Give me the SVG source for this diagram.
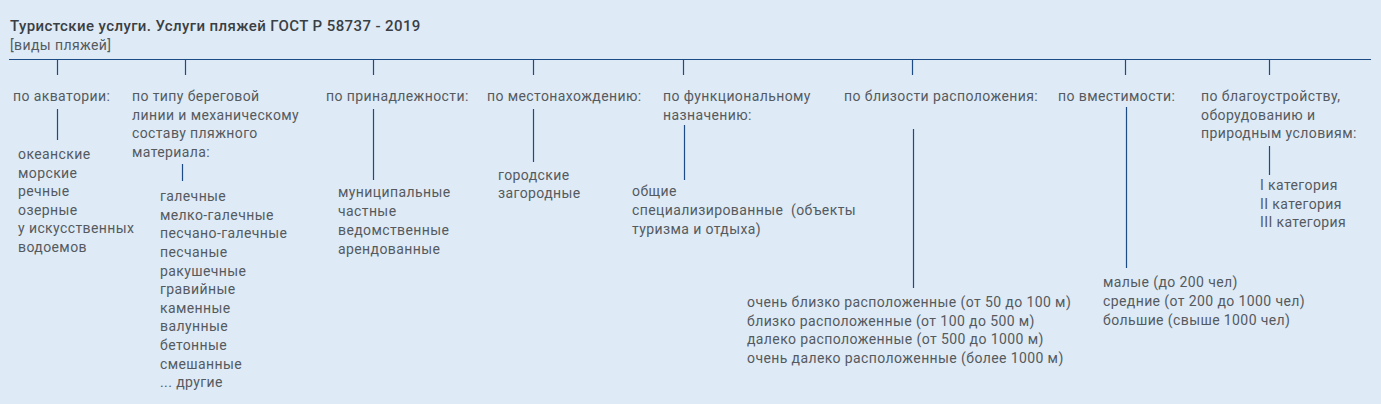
<svg xmlns="http://www.w3.org/2000/svg" width="1381" height="404" viewBox="0 0 1381 404">
<style>
.bg{fill:#deeaf6}
text{font-family:Roboto,"Liberation Sans",sans-serif;font-size:14px;fill:#555a5f;letter-spacing:0.4px}
.title{font-size:15px;font-weight:500;fill:#3a3f44;letter-spacing:0.4px}
.sub{font-size:14px;fill:#555a5f}
.ln{stroke:#1d4b86;stroke-width:1.2;fill:none}
</style>
<rect class="bg" x="0" y="0" width="1381" height="404"/>
<g id="header">
<text class="title" x="10" y="31">Туристские услуги. Услуги пляжей ГОСТ Р 58737 - 2019</text>
<text class="sub" x="10" y="50">[виды пляжей]</text>
</g>
<g id="connectors">
<path class="ln" d="M9 59.5H1371"/>
<path class="ln" d="M57.5 59V75M185.5 59V75M373.5 59V75M533.5 59V75M683.5 59V75M912.5 59V75M1125.5 59V75M1269.5 59V75"/>
<path class="ln" d="M57.5 109V140M182.5 164V181M373.5 109V180M533.5 109V162M684.5 125V180M913.5 129V288M1126.5 107V268M1269.5 146V175"/>
</g>
<g id="akvatoria">
<text x="13" y="101">по акватории:</text>
<text x="18" y="159">океанские</text>
<text x="18" y="177.5">морские</text>
<text x="18" y="196">речные</text>
<text x="18" y="214.5">озерные</text>
<text x="18" y="233">у искусственных</text>
<text x="18" y="251.5">водоемов</text>
</g>
<g id="bereg">
<text x="132" y="101">по типу береговой</text>
<text x="132" y="119.5">линии и механическому</text>
<text x="132" y="138">составу пляжного</text>
<text x="132" y="156.5">материала:</text>
<text x="160" y="201">галечные</text>
<text x="160" y="219.5">мелко-галечные</text>
<text x="160" y="238">песчано-галечные</text>
<text x="160" y="256.5">песчаные</text>
<text x="160" y="275.5">ракушечные</text>
<text x="160" y="294">гравийные</text>
<text x="160" y="312.5">каменные</text>
<text x="160" y="331">валунные</text>
<text x="160" y="349.5">бетонные</text>
<text x="160" y="368.5">смешанные</text>
<text x="160" y="387">... другие</text>
</g>
<g id="prinadl">
<text x="326" y="101">по принадлежности:</text>
<text x="338" y="197">муниципальные</text>
<text x="338" y="215.5">частные</text>
<text x="338" y="235">ведомственные</text>
<text x="338" y="253.5">арендованные</text>
</g>
<g id="mesto">
<text x="487" y="101">по местонахождению:</text>
<text x="498" y="179.5">городские</text>
<text x="498" y="198">загородные</text>
</g>
<g id="funk">
<text x="663" y="101">по функциональному</text>
<text x="663" y="119.5">назначению:</text>
<text x="632" y="196">общие</text>
<text x="632" y="215" xml:space="preserve">специализированные  (объекты</text>
<text x="632" y="234">туризма и отдыха)</text>
</g>
<g id="blizost">
<text x="844" y="101">по близости расположения:</text>
<text x="747" y="307">очень близко расположенные (от 50 до 100 м)</text>
<text x="747" y="325.5">близко расположенные (от 100 до 500 м)</text>
<text x="747" y="344">далеко расположенные (от 500 до 1000 м)</text>
<text x="747" y="362.5">очень далеко расположенные (более 1000 м)</text>
</g>
<g id="vmest">
<text x="1058" y="101">по вместимости:</text>
<text x="1103" y="287">малые (до 200 чел)</text>
<text x="1103" y="306">средние (от 200 до 1000 чел)</text>
<text x="1103" y="324.5">большие (свыше 1000 чел)</text>
</g>
<g id="blago">
<text x="1201" y="101">по благоустройству,</text>
<text x="1201" y="119.5">оборудованию и</text>
<text x="1201" y="138">природным условиям:</text>
<text x="1260" y="190">I категория</text>
<text x="1260" y="208.5">II категория</text>
<text x="1260" y="227">III категория</text>
</g>
</svg>
